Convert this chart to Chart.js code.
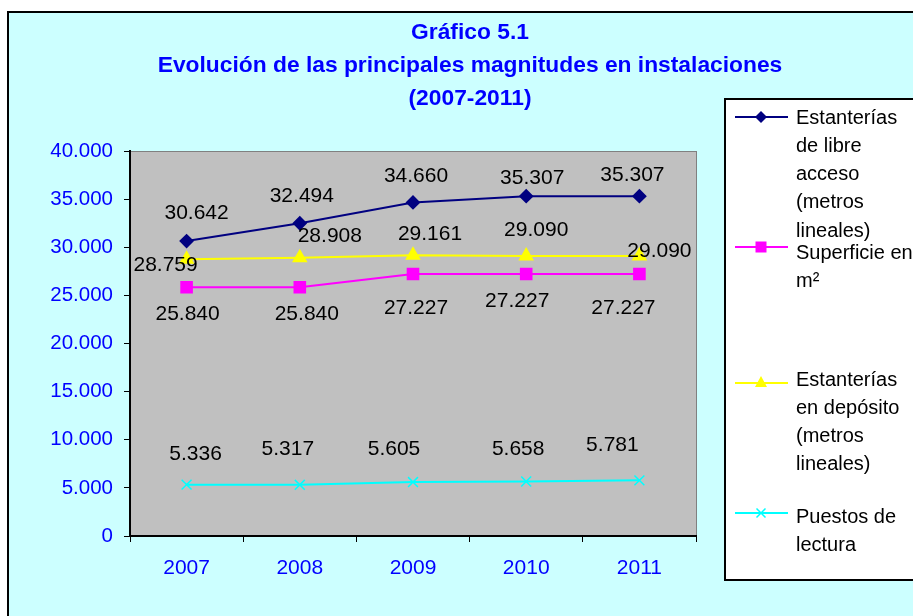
<!DOCTYPE html>
<html>
<head>
<meta charset="utf-8">
<script src="https://cdn.jsdelivr.net/npm/chart.js@4.4.1/dist/chart.umd.min.js"></script>
<style>
  body { margin: 0; background: #fff; }
</style>
</head>
<body>
<canvas id="myChart1" width="913" height="616"></canvas>
<script>
// data
const years = ['2007', '2008', '2009', '2010', '2011'];
const libreAcceso = [30642, 32494, 34660, 35307, 35307];
const superficie = [25840, 25840, 27227, 27227, 27227];
const deposito = [28759, 28908, 29161, 29090, 29090];
const puestos = [5336, 5317, 5605, 5658, 5781];

const titleLines = ['Gráfico 5.1', 'Evolución de las principales magnitudes en instalaciones', '(2007-2011)'];
const legendLines = [
    ['Estanterías', 'de libre', 'acceso', '(metros', 'lineales)'],
    ['Superficie en', 'm²'],
    ['Estanterías', 'en depósito', '(metros', 'lineales)'],
    ['Puestos de', 'lectura']
];

// where each value label sits relative to its point (Excel placed them by hand)
const labelOffsets = [
    [[10, -28], [2, -27], [3, -26], [6, -18], [-7, -21]],
    [[1, 27], [7, 27], [3, 34], [-9, 27], [-16, 34]],
    [[-21, 6], [30, -22], [17, -21], [10, -26], [20, -5]],
    [[9, -30], [-12, -36], [-19, -33], [-8, -32], [-27, -35]]
];

function fmt(v) {
    return String(v).replace(/\B(?=(\d{3})+(?!\d))/g, '.');
}

function marker(ctx, style, x, y, color) {
    ctx.save();
    ctx.fillStyle = color;
    ctx.strokeStyle = color;
    ctx.beginPath();
    if (style === 'rectRot') {
        ctx.moveTo(x, y - 6); ctx.lineTo(x + 6, y); ctx.lineTo(x, y + 6); ctx.lineTo(x - 6, y);
        ctx.closePath(); ctx.fill();
    } else if (style === 'rect') {
        ctx.rect(x - 5.5, y - 5.5, 11, 11); ctx.fill();
    } else if (style === 'triangle') {
        ctx.moveTo(x, y - 7); ctx.lineTo(x + 6, y + 4); ctx.lineTo(x - 6, y + 4);
        ctx.closePath(); ctx.fill();
    } else {
        ctx.lineWidth = 1.5;
        ctx.moveTo(x - 4.5, y - 4.5); ctx.lineTo(x + 4.5, y + 4.5);
        ctx.moveTo(x + 4.5, y - 4.5); ctx.lineTo(x - 4.5, y + 4.5);
        ctx.stroke();
    }
    ctx.restore();
}

const decor = {
    id: 'decor',
    beforeDraw(chart) {
        const c = chart.ctx;
        const a = chart.chartArea;
        c.save();
        c.fillStyle = '#fff';
        c.fillRect(0, 0, chart.width, chart.height);
        c.fillStyle = '#CCFFFF';
        c.fillRect(8, 12, chart.width, chart.height);
        c.strokeStyle = '#000';
        c.lineWidth = 2;
        c.strokeRect(8, 12, chart.width, chart.height);
        c.fillStyle = '#C0C0C0';
        c.fillRect(a.left, a.top, a.right - a.left, a.bottom - a.top);
        c.strokeStyle = '#808080';
        c.lineWidth = 1;
        c.strokeRect(a.left + 0.5, a.top + 0.5, a.right - a.left, a.bottom - a.top);
        c.restore();
    },
    afterDatasetsDraw(chart) {
        const c = chart.ctx;
        c.save();
        c.font = '21px Arial, "Liberation Sans"';
        c.fillStyle = '#000';
        c.textAlign = 'center';
        c.textBaseline = 'middle';
        chart.data.datasets.forEach((ds, i) => {
            chart.getDatasetMeta(i).data.forEach((pt, j) => {
                const off = labelOffsets[i][j];
                c.fillText(fmt(ds.data[j]), pt.x + off[0], pt.y + off[1]);
            });
        });
        c.restore();
    },
    afterDraw(chart) {
        const c = chart.ctx;
        c.save();
        // title
        c.fillStyle = '#0000FF';
        c.font = 'bold 22.8px Arial, "Liberation Sans"';
        c.textAlign = 'center';
        c.textBaseline = 'middle';
        titleLines.forEach((t, i) => c.fillText(t, 470, 33 + i * 33));

        // legend
        c.fillStyle = '#fff';
        c.fillRect(725, 99, 300, 481);
        c.strokeStyle = '#000';
        c.lineWidth = 2;
        c.strokeRect(725, 99, 300, 481);
        const markerY = [117, 247, 383, 513];
        const textY = [118, 253, 380, 517];
        c.font = '20px Arial, "Liberation Sans"';
        c.textAlign = 'left';
        chart.data.datasets.forEach((ds, i) => {
            c.strokeStyle = ds.borderColor;
            c.lineWidth = 2;
            c.beginPath();
            c.moveTo(735, markerY[i]);
            c.lineTo(788, markerY[i]);
            c.stroke();
            marker(c, ds.pointStyle, 761, markerY[i], ds.borderColor);
            c.fillStyle = '#000';
            legendLines[i].forEach((t, k) => c.fillText(t, 796, textY[i] + k * 28.3));
        });
        c.restore();
    }
};

const ctx = document.getElementById('myChart1');

new Chart(ctx, {
    type: 'line',
    data: {
        labels: years,
        datasets: [{
            label: 'Estanterías de libre acceso (metros lineales)',
            data: libreAcceso,
            borderColor: '#000080',
            backgroundColor: '#000080',
            borderWidth: 2,
            pointStyle: 'rectRot',
            pointRadius: 6
        }, {
            label: 'Superficie en m²',
            data: superficie,
            borderColor: '#FF00FF',
            backgroundColor: '#FF00FF',
            borderWidth: 2,
            pointStyle: 'rect',
            pointRadius: 7.5
        }, {
            label: 'Estanterías en depósito (metros lineales)',
            data: deposito,
            borderColor: '#FFFF00',
            backgroundColor: '#FFFF00',
            borderWidth: 2,
            pointStyle: 'triangle',
            pointRadius: 7
        }, {
            label: 'Puestos de lectura',
            data: puestos,
            borderColor: '#00FFFF',
            backgroundColor: '#00FFFF',
            borderWidth: 2,
            pointStyle: 'crossRot',
            pointRadius: 7,
            pointBorderWidth: 1.5
        }]
    },
    options: {
        responsive: false,
        animation: false,
        devicePixelRatio: 1,
        layout: {
            padding: { left: 0, top: 151, right: 217, bottom: 30 }
        },
        plugins: {
            legend: { display: false },
            title: { display: false },
            tooltip: { enabled: false }
        },
        scales: {
            x: {
                offset: true,
                grid: { offset: true, drawOnChartArea: false, color: '#000', tickLength: 6 },
                border: { color: '#000', width: 2 },
                ticks: { color: '#0000FF', font: { family: 'Arial', size: 21 }, padding: 14 },
                afterFit: s => { s.height = 50; }
            },
            y: {
                min: 0,
                max: 40000,
                grid: { drawOnChartArea: false, color: '#000', tickLength: 6 },
                border: { color: '#000', width: 2 },
                ticks: {
                    stepSize: 5000,
                    color: '#0000FF',
                    font: { family: 'Arial', size: 20.5 },
                    padding: 11,
                    callback: v => fmt(v)
                },
                afterFit: s => { s.width = 130; }
            }
        }
    },
    plugins: [decor]
});
</script>
</body>
</html>
